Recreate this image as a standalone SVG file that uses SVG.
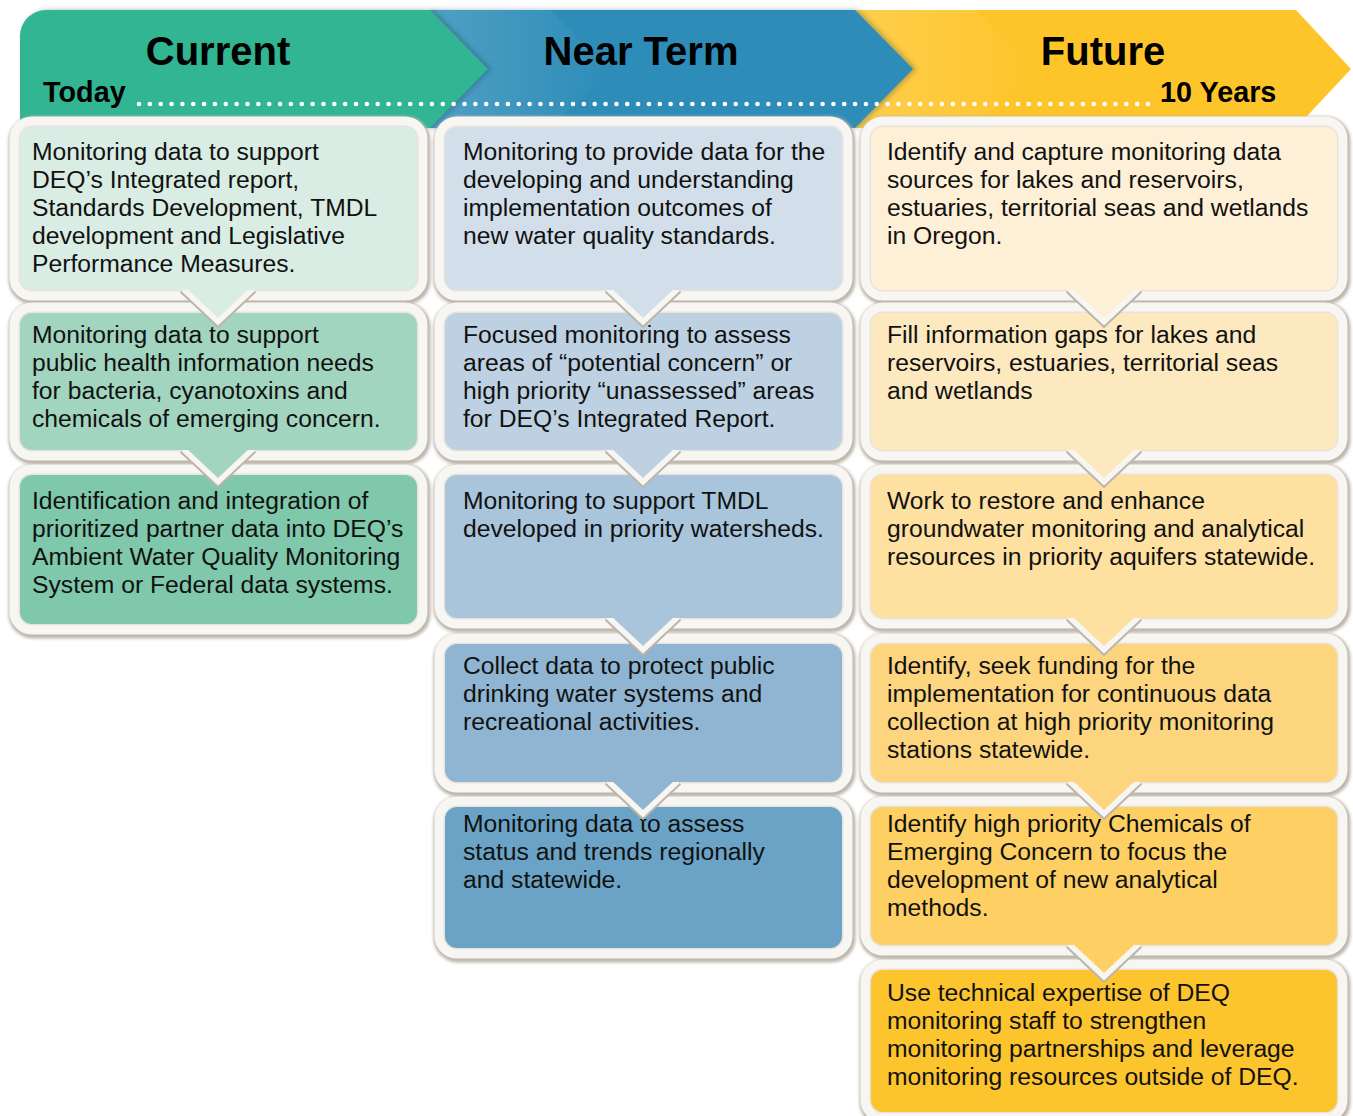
<svg xmlns="http://www.w3.org/2000/svg" width="1353" height="1116" viewBox="0 0 1353 1116">
  <defs>
    <filter id="soft" x="-10%" y="-40%" width="120%" height="180%">
      <feGaussianBlur stdDeviation="1.6"/>
      <feOffset dx="1" dy="2" result="o"/>
    </filter>
    <filter id="edgeShade" x="-5%" y="-10%" width="115%" height="120%">
      <feDropShadow dx="3" dy="0" stdDeviation="2.5" flood-color="#1c3c50" flood-opacity="0.35"/>
    </filter>
    <linearGradient id="glow" x1="0" y1="0" x2="1" y2="0">
      <stop offset="0" stop-color="#ffffff" stop-opacity="0.16"/>
      <stop offset="0.5" stop-color="#ffffff" stop-opacity="0.08"/>
      <stop offset="1" stop-color="#ffffff" stop-opacity="0"/>
    </linearGradient>
    <clipPath id="below" clipPathUnits="userSpaceOnUse">
      <rect x="-80" y="0" width="160" height="60"/>
    </clipPath>
    <g id="notchFrame">
      <path d="M-33,-3 L0,28 L33,-3" fill="none" stroke="#bcb5aa" stroke-width="15" stroke-linejoin="miter" clip-path="url(#below)"/>
      <path d="M-33,-3 L0,28 L33,-3" fill="none" stroke="#f8f6f2" stroke-width="11" stroke-linejoin="miter" clip-path="url(#below)"/>
    </g>
    <path id="notchFill" d="M-33,-3 L0,28 L33,-3 Z"/>
  </defs>
  <style>
    .edge { fill: none; stroke: #bdb6ab; stroke-width: 25; filter: url(#soft); }
    .band { fill: none; stroke: #f8f6f2; stroke-width: 21; }
    .rim { fill: none; stroke: #e8e4dd; stroke-width: 3; }
    .label { font-family: "Liberation Sans", Arial, sans-serif; font-size: 24.7px; fill: #111111; }
    .title { font-family: "Liberation Sans", Arial, sans-serif; font-size: 40px; font-weight: bold; fill: #000000; text-anchor: middle; }
    .sub { font-family: "Liberation Sans", Arial, sans-serif; font-size: 28.8px; font-weight: bold; fill: #000000; }
  </style>

  <!-- timeline banner -->
  <g id="header">
    <path d="M855,10 H1296 L1351,69 L1296,128 H855 Z" fill="#fec52b"/>
    <path d="M855,10 L913,69 L855,128 H975 L1033,69 L975,10 Z" fill="url(#glow)"/>
    <path d="M430,10 H855 L913,69 L855,128 H430 Z" fill="#2e8db8" filter="url(#edgeShade)"/>
    <path d="M430,10 L488,69 L430,128 H550 L608,69 L550,10 Z" fill="url(#glow)"/>
    <path d="M20,128 V36 A26,26 0 0 1 46,10 H430 L488,69 L430,128 Z" fill="#31b593" filter="url(#edgeShade)"/>
    <line x1="139" y1="104" x2="1151" y2="104" stroke="#ffffff" stroke-width="4.6" stroke-linecap="round" stroke-dasharray="0 10.85"/>
    <text class="title" x="218" y="65">Current</text>
    <text class="title" x="641" y="65">Near Term</text>
    <text class="title" x="1103" y="65">Future</text>
    <text class="sub" x="43" y="102">Today</text>
    <text class="sub" x="1160" y="102">10 Years</text>
  </g>

  <!-- Current column -->
  <g id="current-1">
    <rect class="edge" x="20" y="127" width="397" height="163" rx="12"/>
    <rect class="band" x="20" y="127" width="397" height="163" rx="12"/>
    <rect class="rim" x="20" y="127" width="397" height="163" rx="12"/>
    <rect x="20" y="127" width="397" height="163" rx="12" fill="#d9ede4"/>
    <text class="label" x="32" y="160"><tspan x="32">Monitoring data to support</tspan><tspan x="32" dy="28">DEQ’s Integrated report,</tspan><tspan x="32" dy="28">Standards Development, TMDL</tspan><tspan x="32" dy="28">development and Legislative</tspan><tspan x="32" dy="28">Performance Measures.</tspan></text>
  </g>
  <g id="current-2">
    <rect class="edge" x="20" y="313" width="397" height="137" rx="12"/>
    <rect class="band" x="20" y="313" width="397" height="137" rx="12"/>
    <rect class="rim" x="20" y="313" width="397" height="137" rx="12"/>
    <rect x="20" y="313" width="397" height="137" rx="12" fill="#a2d5bf"/>
    <text class="label" x="32" y="343"><tspan x="32">Monitoring data to support</tspan><tspan x="32" dy="28">public health information needs</tspan><tspan x="32" dy="28">for bacteria, cyanotoxins and</tspan><tspan x="32" dy="28">chemicals of emerging concern.</tspan></text>
  </g>
  <g id="current-3">
    <rect class="edge" x="20" y="475" width="397" height="149" rx="12"/>
    <rect class="band" x="20" y="475" width="397" height="149" rx="12"/>
    <rect class="rim" x="20" y="475" width="397" height="149" rx="12"/>
    <rect x="20" y="475" width="397" height="149" rx="12" fill="#7fc8ab"/>
    <text class="label" x="32" y="509"><tspan x="32">Identification and integration of</tspan><tspan x="32" dy="28">prioritized partner data into DEQ’s</tspan><tspan x="32" dy="28">Ambient Water Quality Monitoring</tspan><tspan x="32" dy="28">System or Federal data systems.</tspan></text>
  </g>

  <!-- Near Term column -->
  <g id="near-1">
    <rect class="edge" x="445" y="127" width="397" height="163" rx="12"/>
    <rect class="band" x="445" y="127" width="397" height="163" rx="12"/>
    <rect class="rim" x="445" y="127" width="397" height="163" rx="12"/>
    <rect x="445" y="127" width="397" height="163" rx="12" fill="#d2dfea"/>
    <text class="label" x="463" y="160"><tspan x="463">Monitoring to provide data for the</tspan><tspan x="463" dy="28">developing and understanding</tspan><tspan x="463" dy="28">implementation outcomes of</tspan><tspan x="463" dy="28">new water quality standards.</tspan></text>
  </g>
  <g id="near-2">
    <rect class="edge" x="445" y="313" width="397" height="137" rx="12"/>
    <rect class="band" x="445" y="313" width="397" height="137" rx="12"/>
    <rect class="rim" x="445" y="313" width="397" height="137" rx="12"/>
    <rect x="445" y="313" width="397" height="137" rx="12" fill="#bdd1e2"/>
    <text class="label" x="463" y="343"><tspan x="463">Focused monitoring to assess</tspan><tspan x="463" dy="28">areas of “potential concern” or</tspan><tspan x="463" dy="28">high priority “unassessed” areas</tspan><tspan x="463" dy="28">for DEQ’s Integrated Report.</tspan></text>
  </g>
  <g id="near-3">
    <rect class="edge" x="445" y="475" width="397" height="143" rx="12"/>
    <rect class="band" x="445" y="475" width="397" height="143" rx="12"/>
    <rect class="rim" x="445" y="475" width="397" height="143" rx="12"/>
    <rect x="445" y="475" width="397" height="143" rx="12" fill="#a9c5dc"/>
    <text class="label" x="463" y="509"><tspan x="463">Monitoring to support TMDL</tspan><tspan x="463" dy="28">developed in priority watersheds.</tspan></text>
  </g>
  <g id="near-4">
    <rect class="edge" x="445" y="644" width="397" height="138" rx="12"/>
    <rect class="band" x="445" y="644" width="397" height="138" rx="12"/>
    <rect class="rim" x="445" y="644" width="397" height="138" rx="12"/>
    <rect x="445" y="644" width="397" height="138" rx="12" fill="#8fb5d2"/>
    <text class="label" x="463" y="674"><tspan x="463">Collect data to protect public</tspan><tspan x="463" dy="28">drinking water systems and</tspan><tspan x="463" dy="28">recreational activities.</tspan></text>
  </g>
  <g id="near-5">
    <rect class="edge" x="445" y="807" width="397" height="141" rx="12"/>
    <rect class="band" x="445" y="807" width="397" height="141" rx="12"/>
    <rect class="rim" x="445" y="807" width="397" height="141" rx="12"/>
    <rect x="445" y="807" width="397" height="141" rx="12" fill="#6aa3c6"/>
    <text class="label" x="463" y="832"><tspan x="463">Monitoring data to assess</tspan><tspan x="463" dy="28">status and trends regionally</tspan><tspan x="463" dy="28">and statewide.</tspan></text>
  </g>

  <!-- Future column -->
  <g id="future-1">
    <rect class="edge" x="871" y="127" width="466" height="163" rx="12"/>
    <rect class="band" x="871" y="127" width="466" height="163" rx="12"/>
    <rect class="rim" x="871" y="127" width="466" height="163" rx="12"/>
    <rect x="871" y="127" width="466" height="163" rx="12" fill="#fdf0d6"/>
    <text class="label" x="887" y="160"><tspan x="887">Identify and capture monitoring data</tspan><tspan x="887" dy="28">sources for lakes and reservoirs,</tspan><tspan x="887" dy="28">estuaries, territorial seas and wetlands</tspan><tspan x="887" dy="28">in Oregon.</tspan></text>
  </g>
  <g id="future-2">
    <rect class="edge" x="871" y="313" width="466" height="137" rx="12"/>
    <rect class="band" x="871" y="313" width="466" height="137" rx="12"/>
    <rect class="rim" x="871" y="313" width="466" height="137" rx="12"/>
    <rect x="871" y="313" width="466" height="137" rx="12" fill="#fde9c0"/>
    <text class="label" x="887" y="343"><tspan x="887">Fill information gaps for lakes and</tspan><tspan x="887" dy="28">reservoirs, estuaries, territorial seas</tspan><tspan x="887" dy="28">and wetlands</tspan></text>
  </g>
  <g id="future-3">
    <rect class="edge" x="871" y="475" width="466" height="143" rx="12"/>
    <rect class="band" x="871" y="475" width="466" height="143" rx="12"/>
    <rect class="rim" x="871" y="475" width="466" height="143" rx="12"/>
    <rect x="871" y="475" width="466" height="143" rx="12" fill="#fee0a0"/>
    <text class="label" x="887" y="509"><tspan x="887">Work to restore and enhance</tspan><tspan x="887" dy="28">groundwater monitoring and analytical</tspan><tspan x="887" dy="28">resources in priority aquifers statewide.</tspan></text>
  </g>
  <g id="future-4">
    <rect class="edge" x="871" y="644" width="466" height="138" rx="12"/>
    <rect class="band" x="871" y="644" width="466" height="138" rx="12"/>
    <rect class="rim" x="871" y="644" width="466" height="138" rx="12"/>
    <rect x="871" y="644" width="466" height="138" rx="12" fill="#fdd57f"/>
    <text class="label" x="887" y="674"><tspan x="887">Identify, seek funding for the</tspan><tspan x="887" dy="28">implementation for continuous data</tspan><tspan x="887" dy="28">collection at high priority monitoring</tspan><tspan x="887" dy="28">stations statewide.</tspan></text>
  </g>
  <g id="future-5">
    <rect class="edge" x="871" y="807" width="466" height="138" rx="12"/>
    <rect class="band" x="871" y="807" width="466" height="138" rx="12"/>
    <rect class="rim" x="871" y="807" width="466" height="138" rx="12"/>
    <rect x="871" y="807" width="466" height="138" rx="12" fill="#fed063"/>
    <text class="label" x="887" y="832"><tspan x="887">Identify high priority Chemicals of</tspan><tspan x="887" dy="28">Emerging Concern to focus the</tspan><tspan x="887" dy="28">development of new analytical</tspan><tspan x="887" dy="28">methods.</tspan></text>
  </g>
  <g id="future-6">
    <rect class="edge" x="871" y="970" width="466" height="142" rx="12"/>
    <rect class="band" x="871" y="970" width="466" height="142" rx="12"/>
    <rect class="rim" x="871" y="970" width="466" height="142" rx="12"/>
    <rect x="871" y="970" width="466" height="142" rx="12" fill="#fcc42d"/>
    <text class="label" x="887" y="1001"><tspan x="887">Use technical expertise of DEQ</tspan><tspan x="887" dy="28">monitoring staff to strengthen</tspan><tspan x="887" dy="28">monitoring partnerships and leverage</tspan><tspan x="887" dy="28">monitoring resources outside of DEQ.</tspan></text>
  </g>

  <!-- downward pointers linking each step to the next -->
  <g id="connectors">
    <g transform="translate(218,290)"><use href="#notchFrame"/><use href="#notchFill" fill="#d9ede4"/></g>
    <g transform="translate(218,450)"><use href="#notchFrame"/><use href="#notchFill" fill="#a2d5bf"/></g>
    <g transform="translate(643,290)"><use href="#notchFrame"/><use href="#notchFill" fill="#d2dfea"/></g>
    <g transform="translate(643,450)"><use href="#notchFrame"/><use href="#notchFill" fill="#bdd1e2"/></g>
    <g transform="translate(643,618)"><use href="#notchFrame"/><use href="#notchFill" fill="#a9c5dc"/></g>
    <g transform="translate(643,782)"><use href="#notchFrame"/><use href="#notchFill" fill="#8fb5d2"/></g>
    <g transform="translate(1104,290)"><use href="#notchFrame"/><use href="#notchFill" fill="#fdf0d6"/></g>
    <g transform="translate(1104,450)"><use href="#notchFrame"/><use href="#notchFill" fill="#fde9c0"/></g>
    <g transform="translate(1104,618)"><use href="#notchFrame"/><use href="#notchFill" fill="#fee0a0"/></g>
    <g transform="translate(1104,782)"><use href="#notchFrame"/><use href="#notchFill" fill="#fdd57f"/></g>
    <g transform="translate(1104,945)"><use href="#notchFrame"/><use href="#notchFill" fill="#fed063"/></g>
  </g>
</svg>
